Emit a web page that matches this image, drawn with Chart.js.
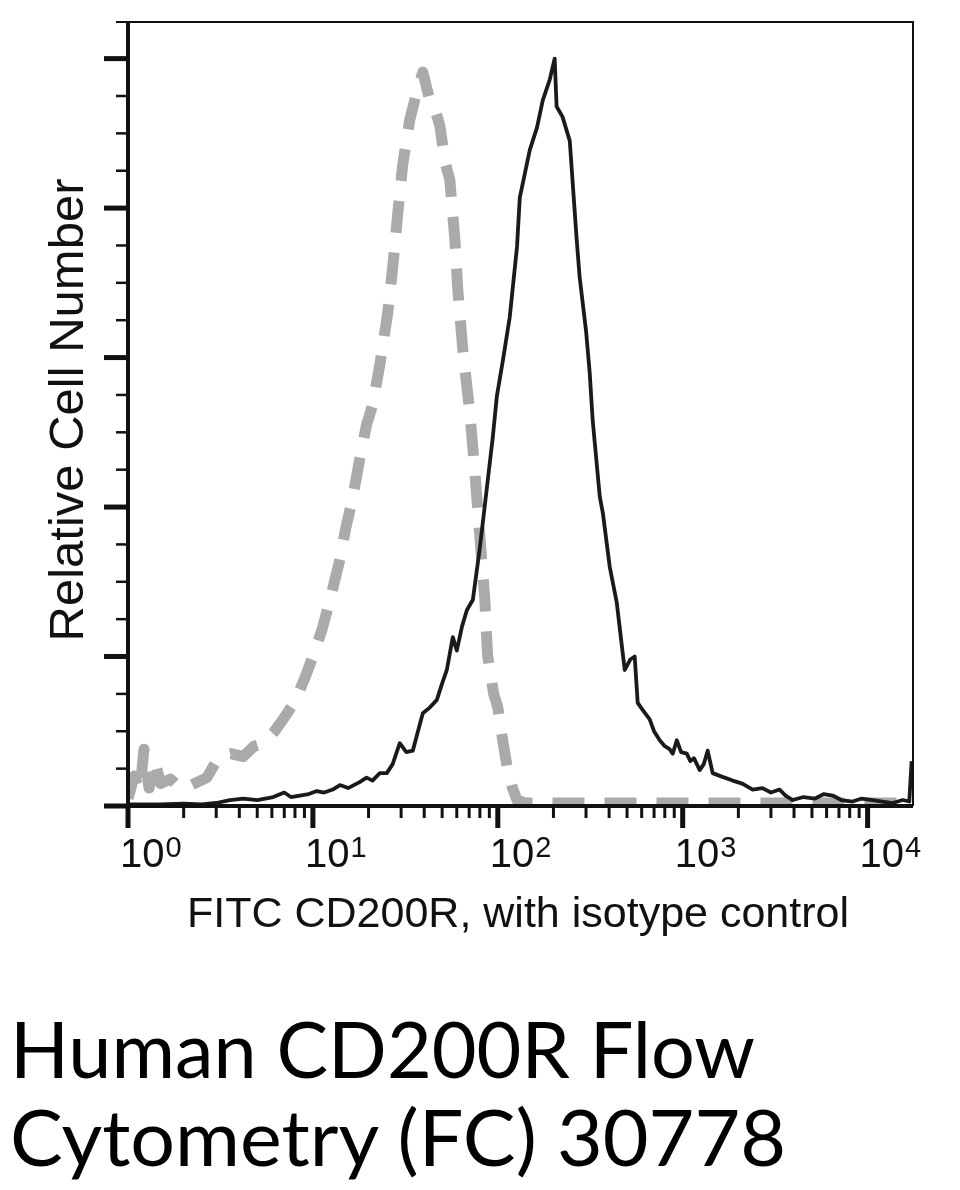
<!DOCTYPE html>
<html>
<head>
<meta charset="utf-8">
<script src="https://cdn.jsdelivr.net/npm/chart.js@4.4.1/dist/chart.umd.min.js"></script>
<style>
  html, body { margin: 0; padding: 0; background: #fff; }
  body { width: 960px; height: 1190px; position: relative; overflow: hidden; }
  #wrap { position: absolute; left: 0; top: 0; width: 960px; height: 960px; }
  #caption {
    position: absolute; left: 10px; top: 1004px;
    font-family: Lato, "Open Sans", sans-serif; font-size: 78px; line-height: 88px;
    color: #000; white-space: nowrap;
  }
  #caption div { transform-origin: 0 0; }
</style>
</head>
<body>
<div id="wrap"><canvas id="histChart"></canvas></div>
<div id="caption"><div>Human CD200R Flow</div><div>Cytometry (FC) 30778</div></div>
<script>
// CD200R stained sample (solid black)
const stainedX = [1, 1.5, 2, 2.5, 3, 3.56, 4.2, 5, 6.1, 7, 7.6, 8.5, 9.5, 10.5, 11.5, 12.8, 14, 15.5, 17.9, 19.5,
  21, 23, 25.1, 27, 29.5, 32, 34.7, 37, 39.3, 43, 46.8, 50, 53, 57.1, 60, 64, 68, 73.3, 80, 87.3,
  94, 98.8, 106.5, 116, 127, 131.5, 149, 163, 175, 191, 203, 208, 224, 245, 267, 277, 300, 314, 326, 356,
  370, 403, 440, 474, 486, 520, 550, 571, 610, 663, 700, 751, 800, 850, 883, 929, 980, 1052, 1100, 1150,
  1236, 1300, 1365, 1452, 1600, 1862, 2100, 2390, 2700, 3000, 3342, 3600, 3935, 4500, 5200, 5800, 6470, 7200, 8300, 9300,
  10640, 12000, 13650, 15500, 16800, 17300];
const stainedY = [1, 1, 1.5, 1, 2, 4, 5, 4, 6, 9, 6, 7, 8, 10, 9, 11, 14, 12, 16, 19,
  17, 22, 22, 28, 42, 36, 37, 50, 62, 66, 71, 82, 91, 113, 104, 120, 131, 138, 173, 213,
  247, 274, 298, 327, 374, 407, 439, 454, 472, 486, 500, 468, 461, 445, 379, 354, 318, 290, 258, 207,
  196, 160, 136, 102, 91, 98, 100, 69, 64, 58, 50, 44, 40, 38, 35, 44, 36, 35, 30, 32,
  24, 28, 37, 22, 20, 17, 15, 11, 12, 9, 11, 7, 4, 6, 5, 8, 7, 4, 3, 5,
  4, 3, 2, 4, 3, 30];

// isotype control (grey dashed)
const isotypeX = [1, 1.08, 1.16, 1.22, 1.3, 1.4, 1.5, 1.7, 1.9, 2.2, 2.67, 3.1, 3.6, 4.2, 4.8, 5.4, 6.2, 6.9, 8, 9,
  10, 11.2, 12.5, 14, 15, 16.4, 17.9, 19.5, 21, 23, 25.4, 27, 28.8, 30.6, 33.4, 36, 39.3, 42.9, 46, 48.6,
  52, 55, 58.6, 60.8, 64.7, 70.6, 75, 80, 85, 88, 95, 100, 106, 112, 120, 127, 140, 300, 1000, 3000,
  10000, 17600];
const isotypeY = [5, 20, 10, 38, 12, 30, 15, 18, 12, 14, 19, 33, 35, 33, 40, 42, 50, 58, 70, 85,
  100, 118, 140, 165, 185, 206, 232, 255, 268, 295, 330, 360, 397, 429, 459, 475, 491, 472, 465, 455,
  430, 419, 379, 345, 305, 263, 225, 180, 139, 101, 75, 66, 45, 27, 12, 4, 2, 2, 2, 2,
  2, 2];

const decadeTicks = [1, 10, 100, 1000, 10000];
const decadeExponents = ['0', '1', '2', '3', '4'];
const yMajorTicks = [0, 100, 200, 300, 400, 500];
const yMinorStep = 25;
const xTitle = 'FITC CD200R, with isotype control';
const yTitle = 'Relative Cell Number';

const toPoints = (xs, ys) => xs.map((x, i) => ({ x: x, y: ys[i] }));

const axisFont = '"Liberation Sans", Arial, Helvetica, sans-serif';

// draws frame, tick marks, decade labels and axis titles from the scales
const flowAxes = {
  id: 'flowAxes',
  afterDraw(chart) {
    const ctx = chart.ctx;
    const a = chart.chartArea;
    const xs = chart.scales.x;
    const ys = chart.scales.y;
    ctx.save();
    ctx.strokeStyle = '#111';
    ctx.fillStyle = '#111';
    ctx.lineCap = 'butt';

    // frame
    ctx.lineWidth = 2;
    ctx.beginPath();
    ctx.moveTo(a.left - 12, a.top);
    ctx.lineTo(a.right, a.top);
    ctx.lineTo(a.right, a.bottom);
    ctx.stroke();
    ctx.lineWidth = 4;
    ctx.beginPath();
    ctx.moveTo(a.left, a.top);
    ctx.lineTo(a.left, a.bottom);
    ctx.lineTo(a.right, a.bottom);
    ctx.stroke();

    // y ticks
    for (let v = 0; v <= yMajorTicks[yMajorTicks.length - 1]; v += yMinorStep) {
      const y = ys.getPixelForValue(v);
      const major = yMajorTicks.includes(v);
      ctx.lineWidth = major ? 5 : 2.5;
      ctx.beginPath();
      ctx.moveTo(a.left - (major ? 24 : 12), y);
      ctx.lineTo(a.left, y);
      ctx.stroke();
    }

    // x ticks
    decadeTicks.forEach(d => {
      for (let m = 1; m <= 9; m++) {
        const v = d * m;
        if (v > xs.max) break;
        const x = xs.getPixelForValue(v);
        const major = m === 1;
        ctx.lineWidth = major ? 5 : 3;
        ctx.beginPath();
        ctx.moveTo(x, a.bottom);
        ctx.lineTo(x, a.bottom + (major ? 22 : 12));
        ctx.stroke();
      }
    });

    // decade labels 10^n
    ctx.textAlign = 'left';
    ctx.textBaseline = 'alphabetic';
    decadeTicks.forEach((d, i) => {
      const x = xs.getPixelForValue(d) - 8;
      ctx.font = '40px ' + axisFont;
      ctx.fillText('10', x, a.bottom + 61);
      const w = ctx.measureText('10').width;
      ctx.font = '29px ' + axisFont;
      ctx.fillText(decadeExponents[i], x + w + 1, a.bottom + 51);
    });

    // axis titles
    ctx.textAlign = 'center';
    ctx.font = '43px ' + axisFont;
    ctx.fillText(xTitle, 518, a.bottom + 121);
    ctx.translate(83, 410);
    ctx.rotate(-Math.PI / 2);
    ctx.font = '49px ' + axisFont;
    ctx.fillText(yTitle, 0, 0);
    ctx.restore();
  }
};

new Chart(document.getElementById('histChart'), {
  type: 'line',
  data: {
    datasets: [
      {
        label: 'CD200R',
        data: toPoints(stainedX, stainedY),
        borderColor: '#1a1a1a',
        borderWidth: 3.8,
        borderJoinStyle: 'round',
        pointRadius: 0,
        tension: 0
      },
      {
        label: 'Isotype control',
        data: toPoints(isotypeX, isotypeY),
        borderColor: '#aaaaaa',
        borderWidth: 11,
        borderDash: [32, 20],
        borderCapStyle: 'butt',
        borderJoinStyle: 'round',
        pointRadius: 0,
        tension: 0
      }
    ]
  },
  options: {
    responsive: true,
    maintainAspectRatio: false,
    animation: false,
    layout: { padding: { left: 128, right: 47, top: 22, bottom: 154 } },
    plugins: { legend: { display: false }, tooltip: { enabled: false } },
    scales: {
      x: { type: 'logarithmic', min: 1, max: 17600, display: false },
      y: { type: 'linear', min: 0, max: 524.5, display: false }
    }
  },
  plugins: [flowAxes]
});

// fit each caption line to the reference line length
const capWidths = [745, 778];
const mctx = document.createElement('canvas').getContext('2d');
mctx.font = '78px Lato';
document.querySelectorAll('#caption div').forEach((line, i) => {
  const w = mctx.measureText(line.textContent).width;
  line.style.transform = 'scaleX(' + (capWidths[i] / w) + ')';
});
</script>
</body>
</html>
